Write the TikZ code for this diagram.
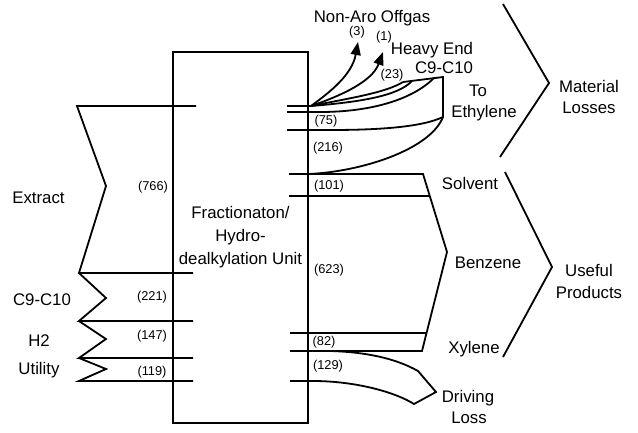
\documentclass[tikz,border=0pt]{standalone}
\usepackage{fontspec}
\setmainfont{Liberation Sans}
\usetikzlibrary{arrows.meta}
\begin{document}
\begin{tikzpicture}[x=1pt,y=-1pt,
  ln/.style={line width=1.8pt, line join=miter},
  big/.style={font=\fontsize{16.8}{23}\selectfont, inner sep=0pt},
  num/.style={font=\fontsize{12.8}{14}\selectfont, inner sep=0pt},
  arr/.style={ln, -{Triangle[length=13pt,width=10pt]}}]
\useasboundingbox (0,0) rectangle (638,432);
% unit box
\node[ln, draw, minimum width=135pt, minimum height=371pt, align=center, big, inner sep=0pt] (unit) at (240.5,237.5) {Fractionaton/\\Hydro-\\dealkylation Unit};
% inputs
\draw[ln] (196,106) -- (77,106) -- (106,186) -- (79,273) -- (193,273);
\draw[ln] (79,273) -- (106,298) -- (79,321) -- (193,321);
\draw[ln] (79,321) -- (106,339) -- (79,358) -- (193,358);
\draw[ln] (79,358) -- (106,369) -- (79,381) -- (193,381);
\node[big] (extract) at (38.5,198) {Extract};
\node[big] (c910in) at (42,300) {C9-C10};
\node[big] (h2) at (39,341) {H2};
\node[big] (utility) at (39,370) {Utility};
\node[num] (n766) at (153,187) {(766)};
\node[num] (n221) at (152,297) {(221)};
\node[num] (n147) at (152,336) {(147)};
\node[num] (n119) at (152,372) {(119)};
% losses
\coordinate (cv) at (311,106);
\coordinate (he1) at (403,82);
\coordinate (he2) at (412,81);
\coordinate (tr) at (443,77);
\coordinate (br) at (443,117);
\draw[ln] (287,106) -- (cv);
\draw[arr] (cv) .. controls (330,92) and (352,75) .. (358,42);
\draw[arr] (cv) .. controls (340,96) and (372,82) .. (383,52);
\draw[ln] (cv) .. controls (350,98) and (385,93) .. (he1);
\draw[ln] (cv) .. controls (360,102) and (398,96) .. (he2);
\draw[ln] (he1) -- (tr) -- (br);
\draw[ln] (287,112) -- (320,112) .. controls (370,112) and (412,100) .. (434,78);
\draw[ln] (287,130) -- (330,130) .. controls (380,130) and (422,127) .. (br);
\draw[ln] (br) .. controls (430,150) and (360,172) .. (308,174);
% products
\draw[ln] (289,174) -- (423,174) -- (447,252) -- (422,351) -- (290,351);
\draw[ln] (289,196) -- (429,196);
\draw[ln] (290,333) -- (427,333);
\draw[ln] (330,351) .. controls (365,352) and (395,358) .. (418,371) -- (436,392) -- (414,404) .. controls (395,392) and (355,381) .. (313,381) -- (290,381);
% brackets
\draw[ln] (503,4) -- (549,83) -- (500,157);
\draw[ln] (505,172) -- (552,267) -- (503,357);
% labels
\node[big] (offgas) at (372,18) {Non-Aro Offgas};
\node[num] (n3) at (357,32) {(3)};
\node[num] (n1) at (384,37) {(1)};
\node[big] (heavy) at (432,50) {Heavy End};
\node[big] (c910out) at (444,68) {C9-C10};
\node[num] (n23) at (392,75) {(23)};
\node[big] (to) at (478,91) {To};
\node[big] (ethylene) at (484,113) {Ethylene};
\node[num] (n75) at (326,121) {(75)};
\node[num] (n216) at (328,148) {(216)};
\node[num] (n101) at (329,186) {(101)};
\node[num] (n623) at (329,270) {(623)};
\node[num] (n82) at (324,342) {(82)};
\node[num] (n129) at (328,366) {(129)};
\node[big] (solvent) at (470,183) {Solvent};
\node[big] (benzene) at (488,263) {Benzene};
\node[big] (xylene) at (474,349) {Xylene};
\node[big] (driving) at (468,398) {Driving};
\node[big] (loss) at (469,418) {Loss};
\node[big] (material) at (589,86) {Material};
\node[big] (losses) at (589,108) {Losses};
\node[big] (useful) at (589,270) {Useful};
\node[big] (products) at (589,292) {Products};
\end{tikzpicture}
\end{document}
